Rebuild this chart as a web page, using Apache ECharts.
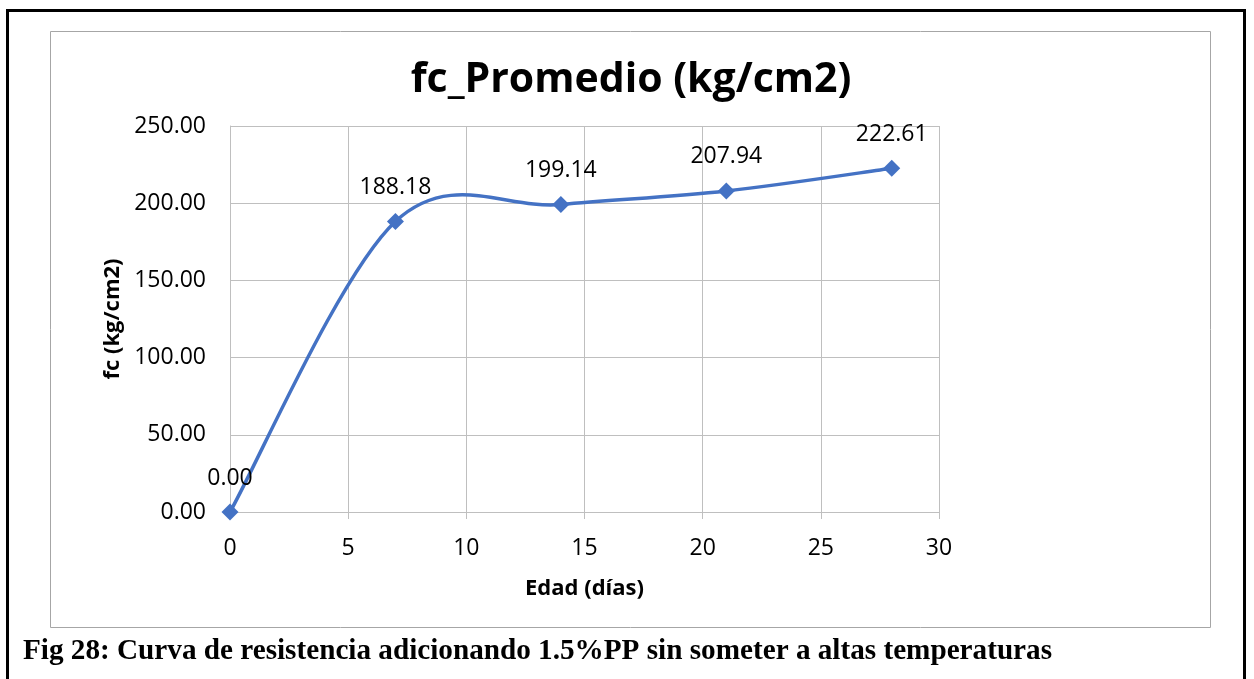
<!DOCTYPE html>
<html>
<head>
<meta charset="utf-8">
<script src="https://cdn.jsdelivr.net/npm/echarts@6/dist/echarts.min.js"></script>
<style>
html,body{margin:0;padding:0;background:#fff;}
#c{width:1254px;height:679px;}
</style>
</head>
<body>
<div id="c"></div>
<script>
const ages = [0, 7, 14, 21, 28];
const fcValues = [0.00, 188.18, 199.14, 207.94, 222.61];
const titleText = 'fc_Promedio (kg/cm2)';
const xName = 'Edad (días)';
const yName = 'fc (kg/cm2)';
const captionText = 'Fig 28: Curva de resistencia adicionando 1.5%PP sin someter a altas temperaturas';

const points = ages.map((a, i) => [a, fcValues[i]]);
const chart = echarts.init(document.getElementById('c'));
const font = '"Open Sans", sans-serif';
const blue = '#4472c4';

// Excel-style smoothed segment (Catmull-Rom, 1/6 tangents) in pixel space
function renderSegment(params, api) {
  const i = params.dataIndex;
  const n = points.length;
  if (i >= n - 1) return null;
  const c = j => api.coord(points[Math.max(0, Math.min(n - 1, j))]);
  const p0 = c(i - 1), p1 = c(i), p2 = c(i + 1), p3 = c(i + 2);
  return {
    type: 'bezierCurve',
    shape: {
      x1: p1[0], y1: p1[1], x2: p2[0], y2: p2[1],
      cpx1: p1[0] + (p2[0] - p0[0]) / 6, cpy1: p1[1] + (p2[1] - p0[1]) / 6,
      cpx2: p2[0] - (p3[0] - p1[0]) / 6, cpy2: p2[1] - (p3[1] - p1[1]) / 6
    },
    style: { fill: 'none', stroke: blue, lineWidth: 3.5, lineCap: 'round' },
    silent: true
  };
}

chart.setOption({
  animation: false,
  backgroundColor: '#ffffff',
  title: [{
    text: titleText,
    left: 626, top: 55, textAlign: 'center',
    textStyle: { fontFamily: font, fontWeight: 'bold', fontSize: 41, color: '#000' }
  }, {
    text: captionText,
    left: 18, top: 632,
    textStyle: { fontFamily: '"Liberation Serif", "Times New Roman", serif', fontWeight: 'bold', fontSize: 29.2, color: '#000' }
  }],
  graphic: [{
    type: 'rect', silent: true,
    shape: { x: 7.5, y: 10.5, width: 1237, height: 700 },
    style: { fill: 'none', stroke: '#000', lineWidth: 3 }
  }, {
    type: 'rect', silent: true,
    shape: { x: 50.5, y: 31.5, width: 1160, height: 596 },
    style: { fill: 'none', stroke: '#a6a6a6', lineWidth: 1 }
  }],
  grid: { left: 230, right: 315, top: 126, bottom: 167 },
  xAxis: {
    type: 'value', min: 0, max: 30, interval: 5,
    name: xName, nameLocation: 'middle', nameGap: 66,
    nameTextStyle: { fontFamily: font, fontWeight: 'bold', fontSize: 22, color: '#000' },
    axisLine: { show: true, lineStyle: { color: '#bfbfbf', width: 1 } },
    axisTick: { show: true, length: 7, lineStyle: { color: '#bfbfbf' } },
    axisLabel: { fontFamily: font, fontSize: 23, color: '#000', margin: 25 },
    splitLine: { show: true, lineStyle: { color: '#bfbfbf', width: 1 } }
  },
  yAxis: {
    type: 'value', min: 0, max: 250, interval: 50,
    name: yName, nameLocation: 'middle', nameGap: 100, nameRotate: 90,
    nameTextStyle: { fontFamily: font, fontWeight: 'bold', fontSize: 22, color: '#000' },
    axisLine: { show: true, lineStyle: { color: '#bfbfbf', width: 1 } },
    axisTick: { show: false },
    axisLabel: { fontFamily: font, fontSize: 23, color: '#000', margin: 24,
      formatter: v => v.toFixed(2) },
    splitLine: { show: true, lineStyle: { color: '#bfbfbf', width: 1 } }
  },
  series: [{
    type: 'custom',
    renderItem: renderSegment,
    data: points,
    clip: false,
    z: 2
  }, {
    type: 'line',
    data: points,
    symbol: 'diamond', symbolSize: 17,
    lineStyle: { opacity: 0 },
    itemStyle: { color: blue },
    z: 3,
    label: { show: true, position: 'top', distance: 14,
      fontFamily: font, fontSize: 23, color: '#000',
      formatter: p => p.value[1].toFixed(2) }
  }]
});
</script>
</body>
</html>
